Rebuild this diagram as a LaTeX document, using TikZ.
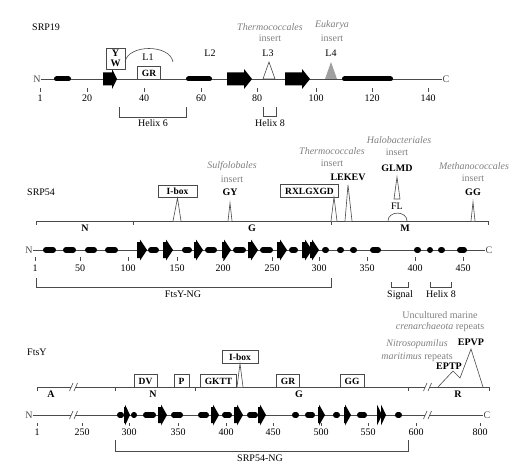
\documentclass[tikz,border=0pt]{standalone}
\usepackage{fontspec}
\setmainfont{Liberation Serif}
\usetikzlibrary{calc}
\definecolor{TopoLine}{HTML}{4A4A4A}
\definecolor{TopoGray}{HTML}{808080}
\definecolor{TopoFill}{HTML}{A0A0A0}
\def\topoBody{6.5}
\def\topoHead{10}
\newcommand{\topoHelix}[4]{%
  \draw[line width=#4pt,line cap=round] ({#1+#4/2},#3) -- ({#2-#4/2},#3);}
\newcommand{\topoStrand}[4]{%
  \fill (#1,{#3-\topoBody}) -- ({#2-#4},{#3-\topoBody}) -- ({#2-#4},{#3-\topoHead})
    -- (#2,#3) -- ({#2-#4},{#3+\topoHead}) -- ({#2-#4},{#3+\topoBody})
    -- (#1,{#3+\topoBody}) -- cycle;}
\newcommand{\topoBreak}[2]{%
  \fill[white] ({#1-2},{#2-4}) rectangle ({#1+2},{#2+4});
  \draw[mainline] ({#1-3.5},{#2+4}) -- ({#1},{#2-4});
  \draw[mainline] ({#1+1},{#2+4}) -- ({#1+4.5},{#2-4});}
\tikzset{
  mainline/.style={draw=TopoLine,line width=0.6pt},
  lab/.style={inner sep=0pt,text height=6.8pt,text depth=0pt,
    font=\fontsize{10}{12}\selectfont},
  num/.style={lab},
  endlab/.style={lab,text=TopoLine},
  greylab/.style={lab,text=TopoGray},
  italab/.style={greylab,font=\itshape\fontsize{10}{12}\selectfont},
  domlab/.style={lab,font=\bfseries\fontsize{10}{12}\selectfont},
  motif/.style={draw=TopoLine,fill=white,line width=0.6pt,inner xsep=4.5pt,
    inner ysep=0pt,minimum height=12.5pt,text height=6.8pt,text depth=0pt,
    font=\bfseries\fontsize{9.5}{11}\selectfont},
}
\begin{document}
\begin{tikzpicture}[x=1pt,y=-1pt]
        \useasboundingbox (0,0) rectangle (521,473);

        % SRP19
        \node[lab,anchor=west] (srp19) at (32,27) {SRP19};
        \node[endlab] (s19N) at (37,79) {N};
        \node[endlab] (s19C) at (446,79) {C};
        \draw[mainline] (s19N) -- (s19C);
        \foreach \x/\lab in {40/1,87/20,144/40,201/60,257/80,316/100,372/120,428/140}{
          \draw[mainline] (\x,88) -- (\x,92);
          \node[num] (s19-\lab) at (\x,98) {\lab};
        }
        \foreach \a/\b in {54/71,186/212,342/393}{\topoHelix{\a}{\b}{79}{5}}
        \topoStrand{103}{117}{79}{5}
        \topoStrand{227}{252}{79}{8}
        \topoStrand{285}{310}{79}{8}

        \draw[mainline,fill=white] (106,48) rectangle (125,69);
        \node[domlab] (s19Y) at (115.5,53.5) {Y};
        \node[domlab] (s19W) at (115.5,63.5) {W};
        \draw[mainline] (125,62) .. controls (128,44) and (170,44) .. (173,62);
        \node[lab] (s19L1) at (148,57) {L1};
        \node[motif] (s19GR) at (149,72.75) {GR};
        \node[lab] (s19L2) at (210,53) {L2};

        \draw[mainline,fill=white] (263,79) -- (269,62) -- (275,79) -- cycle;
        \node[lab] (s19L3) at (268,53) {L3};
        \node[greylab] (s19ins3) at (270,38.5) {insert};
        \node[italab] (s19thermo) at (270,27) {Thermococcales};
        \fill[TopoFill] (325,79) -- (331,62) -- (337,79) -- cycle;
        \node[lab] (s19L4) at (331,53) {L4};
        \node[greylab] (s19ins4) at (332,38.5) {insert};
        \node[italab] (s19euk) at (332,24.5) {Eukarya};

        \draw[mainline] (119,107) -- (119,117) -- (186,117) -- (186,107);
        \node[lab] (s19h6) at (153,123.5) {Helix 6};
        \draw[mainline] (263,107) -- (263,116) -- (276,116) -- (276,107);
        \node[lab] (s19h8) at (270,123.5) {Helix 8};

        % SRP54
        \node[lab,anchor=west] (srp54) at (27,192) {SRP54};
        \node[italab] (s54sulfo) at (232,165) {Sulfolobales};
        \node[greylab] (s54insGY) at (232,179) {insert};
        \node[domlab] (s54GY) at (230,192) {GY};
        \node[motif,minimum width=39pt] (s54Ibox) at (177.5,191.5) {I-box};
        \node[motif] (s54RX) at (309.5,191) {RXLGXGD};
        \node[italab] (s54thermo) at (332,151) {Thermococcales};
        \node[greylab] (s54insLE) at (332,163) {insert};
        \node[domlab] (s54LE) at (348,177) {LEKEV};
        \node[italab] (s54halo) at (399,140) {Halobacteriales};
        \node[greylab] (s54insGL) at (397,152) {insert};
        \node[domlab] (s54GL) at (397,168) {GLMD};
        \node[lab] (s54FL) at (397,206) {FL};
        \node[italab] (s54metha) at (474,166) {Methanococcales};
        \node[greylab] (s54insGG) at (473,178) {insert};
        \node[domlab] (s54GG) at (473,192) {GG};

        \draw[mainline] (36,221) -- (488,221);
        \foreach \x in {36,133,331,488}{\draw[mainline] (\x,221) -- (\x,225);}
        \draw[mainline,fill=white] (173,221) -- (s54Ibox.south) -- (181,221);
        \draw[mainline,fill=white] (228,221) -- (230,203) -- (232,221);
        \draw[mainline,fill=white] (331,221) -- (334,197) -- (337,221);
        \draw[mainline,fill=white] (345,221) -- (348,185) -- (352,221);
        \draw[mainline,fill=white] (394,199) -- (397,177) -- (400,199) -- cycle;
        \draw[mainline] (388,221) .. controls (388,210.5) and (407,210.5) .. (407,221);
        \draw[mainline,fill=white] (471,221) -- (473,202) -- (475,221);
        \node[domlab] (s54dN) at (85,228) {N};
        \node[domlab] (s54dG) at (252,228) {G};
        \node[domlab] (s54dM) at (405,228) {M};

        \node[endlab] (s54N) at (29,250) {N};
        \node[endlab] (s54C) at (489,250) {C};
        \draw[mainline] (s54N) -- (s54C);
        \foreach \x/\lab in {35/1,80/50,128/100,177/150,223/200,272/250,319/300,367/350,415/400,463/450}{
          \draw[mainline] (\x,257) -- (\x,261);
          \node[num] (s54-\lab) at (\x,268) {\lab};
        }
        \foreach \a/\b in {43/56,63/76,85/97,105/118,148/159,182/192,205/217,233/246,260/273,289/298,322/329,337/344,350/357,370/381,414/421,427/433,438/445,457/467}{\topoHelix{\a}{\b}{250}{6}}
        \def\topoBody{8}
        \def\topoHead{10.5}
        \foreach \a/\b in {137/147,163/173,194/203,222/231,248/258,277/287,302/312,310/319}{\topoStrand{\a}{\b}{250}{7}}

        \draw[mainline] (36,278) -- (36,287) -- (331,287) -- (331,278);
        \node[lab] (s54ng) at (183,294.5) {FtsY-NG};
        \draw[mainline] (391,282) -- (391,287) -- (408,287) -- (408,282);
        \node[lab] (s54sig) at (400,294.5) {Signal};
        \draw[mainline] (430,282) -- (430,287) -- (451,287) -- (451,282);
        \node[lab] (s54h8) at (441,294.5) {Helix 8};

        % FtsY
        \node[lab,anchor=west] (ftsy) at (27,352) {FtsY};
        \node[greylab] (fUnc) at (440,315) {Uncultured marine};
        \node[greylab] (fCren) at (440,326) {\itshape crenarchaeota\upshape{} repeats};
        \node[italab] (fNitro) at (417,343) {Nitrosopumilus};
        \node[greylab] (fMari) at (417,356) {\itshape maritimus\upshape{} repeats};
        \node[domlab] (fEPVP) at (471,342) {EPVP};
        \node[domlab] (fEPTP) at (449,366) {EPTP};

        \draw[mainline] (37,387) -- (489,387);
        \foreach \x in {37,115,195,408,489}{\draw[mainline] (\x,387) -- (\x,391);}
        \topoBreak{73}{387}
        \topoBreak{427}{387}
        \draw[mainline] (438,387) -- (453,371) -- (460,378) -- (471,349) -- (483,387);
        \node[motif] (fDV) at (145.5,380.75) {DV};
        \node[motif] (fP) at (181.5,380.75) {P};
        \node[motif] (fGKTT) at (218.5,380.75) {GKTT};
        \node[motif] (fGR) at (288,380.75) {GR};
        \node[motif] (fGG) at (352,380.75) {GG};
        \node[motif,minimum width=36pt] (fIbox) at (240,357) {I-box};
        \draw[mainline,fill=white] (237,387) -- (fIbox.south) -- (243,387);
        \node[domlab] (fdA) at (51,394) {A};
        \node[domlab] (fdN) at (153,394) {N};
        \node[domlab] (fdG) at (299,394) {G};
        \node[domlab] (fdR) at (458,394) {R};

        \node[endlab] (fN) at (29,415) {N};
        \node[endlab] (fC) at (487,415) {C};
        \draw[mainline] (fN) -- (fC);
        \topoBreak{73}{415}
        \topoBreak{427}{415}
        \foreach \x/\lab in {37/1,82/250,129/300,178/350,226/400,273/450,321/500,368/550,416/600,480/800}{
          \draw[mainline] (\x,423) -- (\x,426);
          \node[num] (f-\lab) at (\x,432) {\lab};
        }
        \foreach \a/\b in {117/124,131/137,143/156,171/183,198/209,222/232,247/258,292/299,305/315,333/340,357/367,395/402}{\topoHelix{\a}{\b}{415}{5.5}}
        \foreach \a/\b/\h in {124/130/5,158/167/6,211/219/6,234/243/6,258/266/6,318/325/6,344/351/6,377/382/5,381/386/5}{\topoStrand{\a}{\b}{415}{\h}}

        \draw[mainline] (115,440) -- (115,451) -- (408,451) -- (408,440);
        \node[lab] (fng) at (260,458) {SRP54-NG};
\end{tikzpicture}
\end{document}
